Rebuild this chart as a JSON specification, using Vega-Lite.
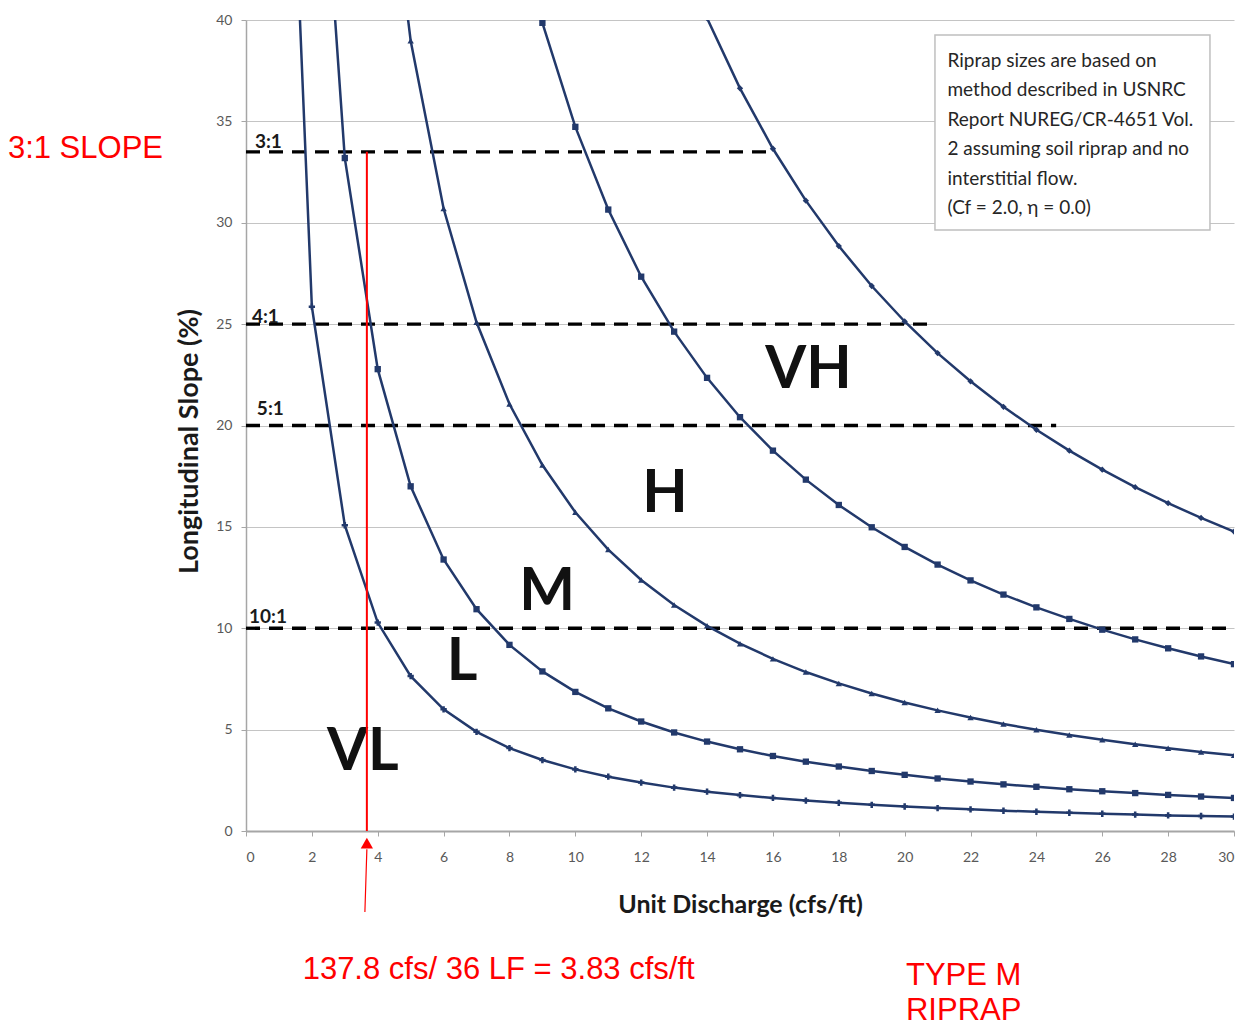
{
  "$schema": "https://vega.github.io/schema/vega-lite/v6.json",
  "width": 988,
  "height": 811,
  "autosize": {"type": "none"},
  "padding": {"left": 246, "top": 20, "right": 12, "bottom": 196},
  "background": "white",
  "config": {"view": {"stroke": null}, "font": "Lato"},
  "datasets": {
    "curves": [
      {"c": "c1", "q": 1, "s": 65.0}, {"c": "c1", "q": 2, "s": 25.86}, {"c": "c1", "q": 3, "s": 15.08}, {"c": "c1", "q": 4, "s": 10.28}, {"c": "c1", "q": 5, "s": 7.64}, {"c": "c1", "q": 6, "s": 6.0}, {"c": "c1", "q": 7, "s": 4.89}, {"c": "c1", "q": 8, "s": 4.09}, {"c": "c1", "q": 9, "s": 3.5}, {"c": "c1", "q": 10, "s": 3.04}, {"c": "c1", "q": 11, "s": 2.68}, {"c": "c1", "q": 12, "s": 2.39}, {"c": "c1", "q": 13, "s": 2.14}, {"c": "c1", "q": 14, "s": 1.94}, {"c": "c1", "q": 15, "s": 1.77}, {"c": "c1", "q": 16, "s": 1.63}, {"c": "c1", "q": 17, "s": 1.5}, {"c": "c1", "q": 18, "s": 1.39}, {"c": "c1", "q": 19, "s": 1.29}, {"c": "c1", "q": 20, "s": 1.21}, {"c": "c1", "q": 21, "s": 1.13}, {"c": "c1", "q": 22, "s": 1.07}, {"c": "c1", "q": 23, "s": 1.0}, {"c": "c1", "q": 24, "s": 0.95}, {"c": "c1", "q": 25, "s": 0.9}, {"c": "c1", "q": 26, "s": 0.85}, {"c": "c1", "q": 27, "s": 0.81}, {"c": "c1", "q": 28, "s": 0.77}, {"c": "c1", "q": 29, "s": 0.74}, {"c": "c1", "q": 30, "s": 0.71},
      {"c": "c2", "q": 2, "s": 56.47}, {"c": "c2", "q": 3, "s": 33.19}, {"c": "c2", "q": 4, "s": 22.78}, {"c": "c2", "q": 5, "s": 17.0}, {"c": "c2", "q": 6, "s": 13.39}, {"c": "c2", "q": 7, "s": 10.94}, {"c": "c2", "q": 8, "s": 9.18}, {"c": "c2", "q": 9, "s": 7.87}, {"c": "c2", "q": 10, "s": 6.86}, {"c": "c2", "q": 11, "s": 6.05}, {"c": "c2", "q": 12, "s": 5.4}, {"c": "c2", "q": 13, "s": 4.86}, {"c": "c2", "q": 14, "s": 4.41}, {"c": "c2", "q": 15, "s": 4.03}, {"c": "c2", "q": 16, "s": 3.7}, {"c": "c2", "q": 17, "s": 3.42}, {"c": "c2", "q": 18, "s": 3.18}, {"c": "c2", "q": 19, "s": 2.96}, {"c": "c2", "q": 20, "s": 2.77}, {"c": "c2", "q": 21, "s": 2.59}, {"c": "c2", "q": 22, "s": 2.44}, {"c": "c2", "q": 23, "s": 2.3}, {"c": "c2", "q": 24, "s": 2.18}, {"c": "c2", "q": 25, "s": 2.06}, {"c": "c2", "q": 26, "s": 1.96}, {"c": "c2", "q": 27, "s": 1.87}, {"c": "c2", "q": 28, "s": 1.78}, {"c": "c2", "q": 29, "s": 1.7}, {"c": "c2", "q": 30, "s": 1.63},
      {"c": "c3", "q": 4, "s": 52.22}, {"c": "c3", "q": 5, "s": 38.98}, {"c": "c3", "q": 6, "s": 30.7}, {"c": "c3", "q": 7, "s": 25.09}, {"c": "c3", "q": 8, "s": 21.06}, {"c": "c3", "q": 9, "s": 18.05}, {"c": "c3", "q": 10, "s": 15.72}, {"c": "c3", "q": 11, "s": 13.88}, {"c": "c3", "q": 12, "s": 12.38}, {"c": "c3", "q": 13, "s": 11.15}, {"c": "c3", "q": 14, "s": 10.12}, {"c": "c3", "q": 15, "s": 9.24}, {"c": "c3", "q": 16, "s": 8.49}, {"c": "c3", "q": 17, "s": 7.84}, {"c": "c3", "q": 18, "s": 7.28}, {"c": "c3", "q": 19, "s": 6.78}, {"c": "c3", "q": 20, "s": 6.34}, {"c": "c3", "q": 21, "s": 5.95}, {"c": "c3", "q": 22, "s": 5.6}, {"c": "c3", "q": 23, "s": 5.28}, {"c": "c3", "q": 24, "s": 4.99}, {"c": "c3", "q": 25, "s": 4.73}, {"c": "c3", "q": 26, "s": 4.5}, {"c": "c3", "q": 27, "s": 4.28}, {"c": "c3", "q": 28, "s": 4.08}, {"c": "c3", "q": 29, "s": 3.9}, {"c": "c3", "q": 30, "s": 3.73},
      {"c": "c4", "q": 8, "s": 46.51}, {"c": "c4", "q": 9, "s": 39.86}, {"c": "c4", "q": 10, "s": 34.73}, {"c": "c4", "q": 11, "s": 30.65}, {"c": "c4", "q": 12, "s": 27.34}, {"c": "c4", "q": 13, "s": 24.63}, {"c": "c4", "q": 14, "s": 22.35}, {"c": "c4", "q": 15, "s": 20.41}, {"c": "c4", "q": 16, "s": 18.76}, {"c": "c4", "q": 17, "s": 17.33}, {"c": "c4", "q": 18, "s": 16.08}, {"c": "c4", "q": 19, "s": 14.98}, {"c": "c4", "q": 20, "s": 14.01}, {"c": "c4", "q": 21, "s": 13.14}, {"c": "c4", "q": 22, "s": 12.36}, {"c": "c4", "q": 23, "s": 11.66}, {"c": "c4", "q": 24, "s": 11.03}, {"c": "c4", "q": 25, "s": 10.46}, {"c": "c4", "q": 26, "s": 9.93}, {"c": "c4", "q": 27, "s": 9.45}, {"c": "c4", "q": 28, "s": 9.01}, {"c": "c4", "q": 29, "s": 8.61}, {"c": "c4", "q": 30, "s": 8.23},
      {"c": "c5", "q": 13, "s": 44.18}, {"c": "c5", "q": 14, "s": 40.09}, {"c": "c5", "q": 15, "s": 36.63}, {"c": "c5", "q": 16, "s": 33.65}, {"c": "c5", "q": 17, "s": 31.09}, {"c": "c5", "q": 18, "s": 28.85}, {"c": "c5", "q": 19, "s": 26.88}, {"c": "c5", "q": 20, "s": 25.13}, {"c": "c5", "q": 21, "s": 23.57}, {"c": "c5", "q": 22, "s": 22.18}, {"c": "c5", "q": 23, "s": 20.92}, {"c": "c5", "q": 24, "s": 19.79}, {"c": "c5", "q": 25, "s": 18.76}, {"c": "c5", "q": 26, "s": 17.82}, {"c": "c5", "q": 27, "s": 16.96}, {"c": "c5", "q": 28, "s": 16.17}, {"c": "c5", "q": 29, "s": 15.44}, {"c": "c5", "q": 30, "s": 14.77}
    ],
    "hlines": [
      {"q": 0, "q2": 16.07, "s": 33.5},
      {"q": 0, "q2": 20.9, "s": 25},
      {"q": 0, "q2": 24.6, "s": 20},
      {"q": 0, "q2": 30, "s": 10}
    ],
    "hlabels": [
      {"q": 0.27, "s": 33.7, "t": "3:1"},
      {"q": 0.18, "s": 25.06, "t": "4:1"},
      {"q": 0.33, "s": 20.52, "t": "5:1"},
      {"q": 0.09, "s": 10.27, "t": "10:1"}
    ],
    "regions": [
      {"q": 17.08, "s": 21.85, "t": "VH"},
      {"q": 12.72, "s": 15.73, "t": "H"},
      {"q": 9.14, "s": 10.9, "t": "M"},
      {"q": 6.56, "s": 7.45, "t": "L"},
      {"q": 3.55, "s": 3.01, "t": "VL"}
    ],
    "box": [{"q": 20.92, "q2": 29.27, "s": 39.26, "s2": 29.64}],
    "note": [{"q": 21.3, "s": 37.7, "t": "Riprap sizes are based on\nmethod described in USNRC\nReport NUREG/CR-4651 Vol.\n2 assuming soil riprap and no\ninterstitial flow.\n(Cf = 2.0, η = 0.0)"}],
    "redline": [{"q": 3.67, "s": 0, "s2": 33.5}],
    "arrow": [{"q": 3.61, "q2": 3.67, "s": -4.0, "s2": -0.9}],
    "arrowhead": [{"q": 3.67, "s": -0.6}],
    "redtext": [
      {"q": -7.23, "s": 33.2, "t": "3:1 SLOPE"},
      {"q": 1.72, "s": -7.31, "t": "137.8 cfs/ 36 LF = 3.83 cfs/ft"},
      {"q": 20.04, "s": -7.6, "t": "TYPE M"},
      {"q": 20.04, "s": -9.3, "t": "RIPRAP"}
    ]
  },
  "encoding": {
    "x": {
      "field": "q", "type": "quantitative",
      "scale": {"domain": [0, 30], "nice": false, "zero": false},
      "axis": {
        "values": [0, 2, 4, 6, 8, 10, 12, 14, 16, 18, 20, 22, 24, 26, 28, 30],
        "grid": false,
        "domainColor": "#a6a6a6", "domainWidth": 2,
        "tickColor": "#a6a6a6", "tickSize": 5,
        "labelFont": "Lato", "labelFontSize": 14, "labelColor": "#595959", "labelPadding": 14,
        "title": "Unit Discharge (cfs/ft)",
        "titleFont": "Lato", "titleFontSize": 25, "titleFontWeight": "bold", "titleColor": "#1a1a1a", "titlePadding": 28
      }
    },
    "y": {
      "field": "s", "type": "quantitative",
      "scale": {"domain": [0, 40], "nice": false, "zero": false},
      "axis": {
        "values": [0, 5, 10, 15, 20, 25, 30, 35, 40],
        "grid": true, "gridColor": "#c4c4c4", "gridWidth": 1.2,
        "domainColor": "#a6a6a6", "domainWidth": 1.5,
        "tickColor": "#a6a6a6", "tickSize": 5,
        "labelFont": "Lato", "labelFontSize": 14, "labelColor": "#595959", "labelPadding": 9,
        "title": "Longitudinal   Slope (%)",
        "titleFont": "Lato", "titleFontSize": 27, "titleFontWeight": "bold", "titleColor": "#1a1a1a", "titlePadding": 12,
        "titleY": 421
      }
    }
  },
  "layer": [
    {
      "data": {"name": "box"},
      "mark": {"type": "rect", "fill": "white", "stroke": "#bfbfbf", "strokeWidth": 1.5},
      "encoding": {"x2": {"field": "q2"}, "y2": {"field": "s2"}}
    },
    {
      "data": {"name": "note"},
      "mark": {"type": "text", "align": "left", "baseline": "alphabetic", "font": "Lato", "fontSize": 19, "lineBreak": "\n", "lineHeight": 29.5, "color": "#262626"},
      "encoding": {"text": {"field": "t"}}
    },
    {
      "data": {"name": "hlines"},
      "mark": {"type": "rule", "color": "black", "strokeWidth": 3.3, "strokeDash": [14, 9]},
      "encoding": {"x2": {"field": "q2"}}
    },
    {
      "data": {"name": "curves"},
      "mark": {"type": "line", "clip": true, "color": "#22396b", "strokeWidth": 2.5},
      "encoding": {"detail": {"field": "c"}}
    },
    {
      "data": {"name": "curves"},
      "mark": {"type": "point", "clip": true, "filled": true, "color": "#22396b", "size": 40, "opacity": 1},
      "encoding": {
        "shape": {"field": "c", "type": "nominal", "legend": null,
          "scale": {"domain": ["c1", "c2", "c3", "c4", "c5"], "range": ["cross", "square", "triangle-up", "square", "diamond"]}}
      }
    },
    {
      "data": {"name": "hlabels"},
      "mark": {"type": "text", "align": "left", "baseline": "alphabetic", "font": "Lato", "fontWeight": "bold", "fontSize": 19, "color": "#1a1a1a"},
      "encoding": {"text": {"field": "t"}}
    },
    {
      "data": {"name": "regions"},
      "mark": {"type": "text", "align": "center", "baseline": "alphabetic", "font": "Lato", "fontWeight": "bold", "fontSize": 59, "color": "#111111"},
      "encoding": {"text": {"field": "t"}}
    },
    {
      "data": {"name": "redline"},
      "mark": {"type": "rule", "color": "#ff0000", "strokeWidth": 2},
      "encoding": {"y2": {"field": "s2"}}
    },
    {
      "data": {"name": "arrow"},
      "mark": {"type": "rule", "color": "#ff0000", "strokeWidth": 1.2, "clip": false},
      "encoding": {"x2": {"field": "q2"}, "y2": {"field": "s2"}}
    },
    {
      "data": {"name": "arrowhead"},
      "mark": {"type": "point", "shape": "triangle-up", "filled": true, "color": "#ff0000", "size": 150, "opacity": 1, "clip": false}
    },
    {
      "data": {"name": "redtext"},
      "mark": {"type": "text", "align": "left", "baseline": "alphabetic", "font": "Liberation Sans", "fontSize": 31, "color": "#ff0000", "clip": false},
      "encoding": {"text": {"field": "t"}}
    }
  ]
}
